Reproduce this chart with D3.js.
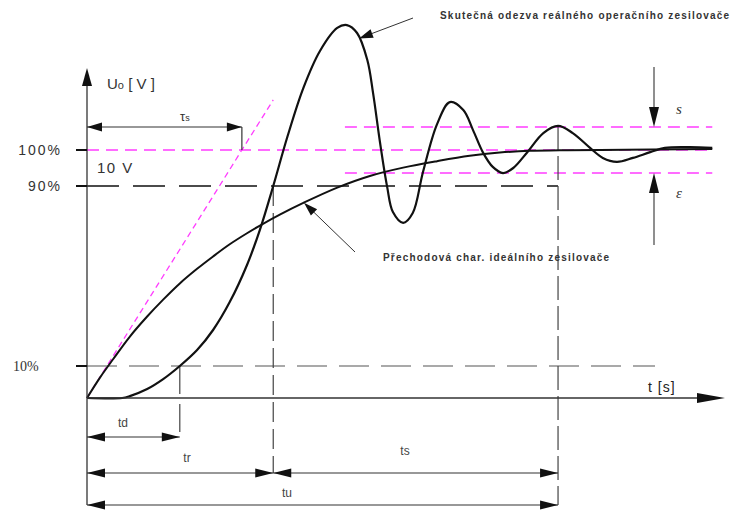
<!DOCTYPE html>
<html>
<head>
<meta charset="utf-8">
<script src="https://cdn.jsdelivr.net/npm/d3@7"></script>
<style>
  body { margin: 0; background: #fff; }
  svg { display: block; font-family: "Liberation Sans", Arial, sans-serif; }
</style>
</head>
<body>
<svg id="chart" width="749" height="511"></svg>
<script>
// levels on the output axis (percent of final value)
const levelPct = [10, 90, 100];
const levelLabels = ["10%", "90%", "100%"];
const band = 6.4; // tolerance band +-epsilon

// ideal amplifier step response (time in arbitrary units, output in %)
const idealT = [0, 2.0, 4.1, 6.7, 9.4, 11.9, 14.5, 17.2, 19.7, 22.3, 25.0, 27.5, 30.2, 33.8, 39.1, 44.2, 49.4, 54.7, 59.8, 64.5, 69.2, 73.9, 80.2, 97.7];
const idealU = [0, 6.3, 13.1, 23.1, 32.0, 39.5, 46.7, 53.2, 58.7, 64.1, 69.0, 73.2, 77.4, 82.5, 89.3, 92.8, 95.1, 96.9, 98.4, 99.3, 99.8, 99.9, 100, 100.3];

// real op-amp response
const realT = [0, 5.5, 6.7, 9.4, 11.9, 14.5, 17.2, 19.7, 22.3, 25.0, 27.0, 29.1, 31.3, 33.8, 36.4, 39.1, 40.6, 42.2, 43.8, 44.7, 45.8, 46.9, 47.8, 49.4, 50.9, 52.5, 54.7, 56.7, 58.8, 60.3, 61.9, 63.4, 65.0, 66.6, 68.8, 71.3, 73.6, 75.9, 78.6, 80.6, 82.8, 85.3, 88.0, 90.3, 94.2, 97.7];
const realU = [0, 0, 0.6, 2.8, 5.9, 10, 17.1, 26.0, 38.4, 54.9, 70.4, 90, 103.6, 117.2, 127.5, 133.9, 134.7, 132.5, 125, 115.8, 101.9, 89.6, 78.4, 73.6, 78, 93.9, 107.2, 113.3, 111.1, 105.6, 99.2, 95.3, 93.6, 95, 99.4, 104.7, 106.7, 104.7, 100.6, 97.8, 96.7, 97.8, 99.4, 100.6, 100.8, 100.6];

// tangent of the ideal response at t = 0
const tangentT = [0, 3.1, 20.7, 24.2, 29.1];
const tangentU = [0, 10, 90, 100, 113.9];

// characteristic times
const tD = 14.5, tR = 29.1, tS = 73.6, tau = 24.2;

const svg = d3.select("#chart");
const x = d3.scaleLinear().domain([0, 100]).range([87, 727]);
// schematic (non-uniform) output axis
const y = d3.scaleLinear().domain([0, 10, 90, 100]).range([398, 366, 186, 150]);

const magenta = "#ff3cff";
const ink = "#111";

function hline(v, t0, t1, color, dash, w) {
  svg.append("line")
    .attr("x1", x(t0)).attr("x2", x(t1))
    .attr("y1", y(v)).attr("y2", y(v))
    .attr("stroke", color).attr("stroke-width", w)
    .attr("stroke-dasharray", dash);
}

// filled arrow head, tip at (px,py), pointing in direction (dx,dy)
function head(px, py, dx, dy, len, hw) {
  const nx = -dy, ny = dx;
  const bx = px - dx * len, by = py - dy * len;
  svg.append("path")
    .attr("d", `M${px},${py}L${bx + nx * hw},${by + ny * hw}L${bx - nx * hw},${by - ny * hw}Z`)
    .attr("fill", ink);
}

function dimension(t0, t1, py) {
  svg.append("line")
    .attr("x1", x(t0)).attr("x2", x(t1))
    .attr("y1", py).attr("y2", py)
    .attr("stroke", "#333").attr("stroke-width", 1.2);
  head(x(t0), py, -1, 0, 18, 4.5);
  head(x(t1), py, 1, 0, 18, 4.5);
}

// reference levels
hline(10, 0, 88.75, "#555", "30,12", 1.2);
hline(90, 0, tS, ink, "32,14", 1.6);
hline(100, 0, 97.7, magenta, "12,7", 1.4);
hline(100 + band, 40.3, 97.7, magenta, "12,7", 1.4);
hline(100 - band, 40.3, 97.7, magenta, "12,7", 1.4);

// tangent
svg.append("path")
  .datum(d3.zip(tangentT, tangentU))
  .attr("d", d3.line().x(d => x(d[0])).y(d => y(d[1])))
  .attr("fill", "none").attr("stroke", magenta)
  .attr("stroke-width", 1.3).attr("stroke-dasharray", "6,4");

// vertical helper lines
const realPeakS = realU[realT.indexOf(tS)];
[[tD, 10, 437, "28,10"], [tR, 90, 473, "20,7"], [tS, realPeakS, 505, "24,6"]].forEach(([t, v, yb, dash]) => {
  svg.append("line")
    .attr("x1", x(t)).attr("x2", x(t))
    .attr("y1", y(v)).attr("y2", yb)
    .attr("stroke", "#444").attr("stroke-width", 1.2)
    .attr("stroke-dasharray", dash);
});

// curves
const smooth = d3.line().x(d => x(d[0])).y(d => y(d[1])).curve(d3.curveCatmullRom.alpha(0.5));
svg.append("path")
  .datum(d3.zip(idealT, idealU))
  .attr("d", smooth)
  .attr("fill", "none").attr("stroke", ink).attr("stroke-width", 2);

svg.append("path")
  .datum(d3.zip(realT, realU))
  .attr("d", smooth)
  .attr("fill", "none").attr("stroke", ink).attr("stroke-width", 2.2);

// axes
svg.append("line").attr("x1", x(0)).attr("x2", x(0)).attr("y1", 505).attr("y2", 80)
  .attr("stroke", "#333").attr("stroke-width", 1.3);
head(x(0), 68, 0, -1, 18, 5);
svg.append("line").attr("x1", x(0)).attr("x2", 712).attr("y1", y(0)).attr("y2", y(0))
  .attr("stroke", "#333").attr("stroke-width", 1.3);
head(725, y(0), 1, 0, 28, 5);

// level ticks and labels
levelPct.forEach((v, i) => {
  svg.append("line").attr("x1", x(0) - 11).attr("x2", x(0))
    .attr("y1", y(v)).attr("y2", y(v)).attr("stroke", ink).attr("stroke-width", 2);
  const small = v === 10;
  svg.append("text")
    .attr("x", small ? 13 : 62).attr("y", y(v) + 5)
    .attr("text-anchor", small ? "start" : "end")
    .attr("font-size", 14)
    .attr("font-family", small ? "Liberation Serif, serif" : null)
    .attr("letter-spacing", small ? 0 : 2)
    .attr("fill", "#333")
    .text(levelLabels[i]);
});

svg.append("text").attr("x", 97).attr("y", y(100) + 23)
  .attr("font-size", 15).attr("letter-spacing", 1.5).attr("fill", "#333").text("10 V");

const yl = svg.append("text").attr("x", 107).attr("y", 89).attr("font-size", 15).attr("fill", "#333");
yl.append("tspan").text("U");
yl.append("tspan").attr("font-size", 11).text("o");
yl.append("tspan").text(" [ V ]");

svg.append("text").attr("x", 648).attr("y", 392).attr("font-size", 14)
  .attr("letter-spacing", 1).attr("fill", "#222").text("t [s]");

// time constant dimension
const tauY = 127;
svg.append("line").attr("x1", x(0)).attr("x2", x(tau)).attr("y1", tauY).attr("y2", tauY)
  .attr("stroke", "#333").attr("stroke-width", 1.2);
svg.append("line").attr("x1", x(tau)).attr("x2", x(tau)).attr("y1", tauY).attr("y2", y(100))
  .attr("stroke", "#333").attr("stroke-width", 1.2);
head(x(0), tauY, -1, 0, 15, 4.5);
head(x(tau), tauY, 1, 0, 15, 4.5);
const tl = svg.append("text").attr("x", 180).attr("y", 121).attr("font-size", 13).attr("fill", "#333");
tl.append("tspan").text("τ");
tl.append("tspan").attr("font-size", 9).text("s");

// time dimensions
dimension(0, tD, 437);
dimension(0, tR, 473);
dimension(tR, tS, 473);
dimension(0, tS, 505);
[["td", 123, 427], ["tr", 187, 462], ["ts", 405, 455], ["tu", 287, 497]].forEach(([s, px, py]) => {
  svg.append("text").attr("x", px).attr("y", py).attr("text-anchor", "middle")
    .attr("font-size", 12).attr("fill", "#444").text(s);
});

// tolerance band arrows
const bx = 654;
svg.append("line").attr("x1", bx).attr("x2", bx).attr("y1", 67).attr("y2", y(100 + band) - 10)
  .attr("stroke", "#333").attr("stroke-width", 1.1);
head(bx, y(100 + band), 0, 1, 20, 5);
svg.append("line").attr("x1", bx).attr("x2", bx).attr("y1", 245).attr("y2", y(100 - band) + 10)
  .attr("stroke", "#333").attr("stroke-width", 1.1);
head(bx, y(100 - band), 0, -1, 20, 5);
svg.append("text").attr("x", 676).attr("y", 114).attr("font-size", 15)
  .attr("font-family", "Liberation Serif, serif").attr("font-style", "italic").attr("fill", "#333").text("s");
svg.append("text").attr("x", 676).attr("y", 198).attr("font-size", 15)
  .attr("font-family", "Liberation Serif, serif").attr("font-style", "italic").attr("fill", "#333").text("ε");

// annotations
function note(tipT, tipU, tail, text, tx, ty) {
  const px = x(tipT), py = y(tipU);
  const len = Math.hypot(tail[0] - px, tail[1] - py);
  const dx = (px - tail[0]) / len, dy = (py - tail[1]) / len;
  svg.append("line").attr("x1", tail[0]).attr("y1", tail[1]).attr("x2", px - dx * 8).attr("y2", py - dy * 8)
    .attr("stroke", "#333").attr("stroke-width", 1);
  head(px, py, dx, dy, 14, 4.5);
  svg.append("text").attr("x", tx).attr("y", ty).attr("font-size", 10)
    .attr("font-weight", "bold").attr("letter-spacing", 1.2).attr("fill", "#333").text(text);
}
note(42.5, 131, [413, 18], "Skutečná odezva reálného operačního zesilovače", 440, 19);
note(33.9, 82.6, [355, 252], "Přechodová char. ideálního zesilovače", 383, 261);
</script>
</body>
</html>
